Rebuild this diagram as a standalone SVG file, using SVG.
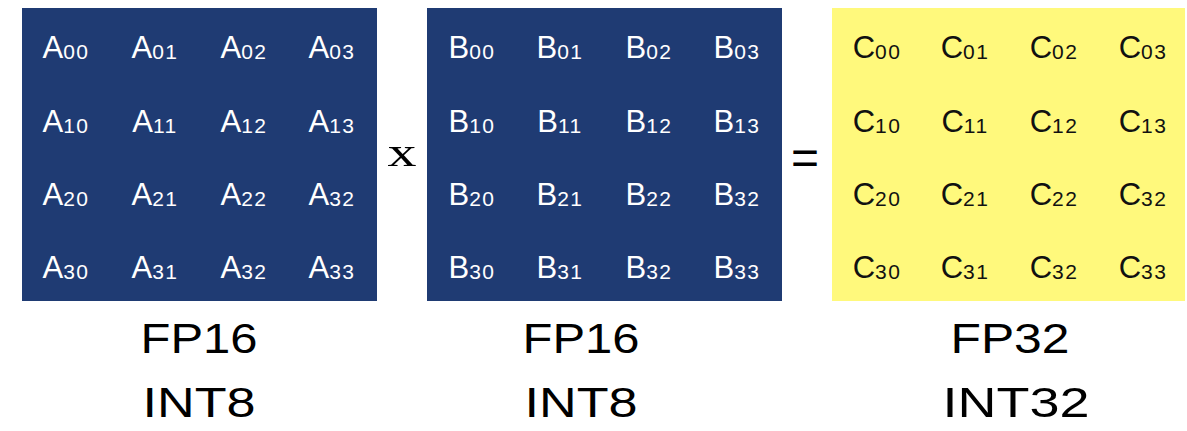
<svg xmlns="http://www.w3.org/2000/svg" width="1187" height="431" viewBox="0 0 1187 431">
<style>
.blue{fill:#1f3b73}
.yellow{fill:#fff97c}
.cw{font-family:"Liberation Sans",Arial,sans-serif;font-size:31px;fill:#ffffff;text-anchor:middle}
.ck{font-family:"Liberation Sans",Arial,sans-serif;font-size:31px;fill:#111111;text-anchor:middle}
.sub{font-size:21px;letter-spacing:1.5px}
.lbl{font-family:"Liberation Sans",Arial,sans-serif;font-size:43px;fill:#000000;text-anchor:middle}
.op{font-family:"Liberation Serif","Times New Roman",serif;font-size:42px;fill:#000;text-anchor:middle}
.eq{font-family:"Liberation Sans",Arial,sans-serif;font-size:48px;fill:#000;text-anchor:middle}
</style>
<rect width="1187" height="431" fill="#ffffff"/>
<g id="matrixA">
<rect class="blue" x="22" y="8" width="355" height="293"/>
<text class="cw" x="66" y="58">A<tspan class="sub" dy="1">00</tspan></text>
<text class="cw" x="155" y="58">A<tspan class="sub" dy="1">01</tspan></text>
<text class="cw" x="244" y="58">A<tspan class="sub" dy="1">02</tspan></text>
<text class="cw" x="332" y="58">A<tspan class="sub" dy="1">03</tspan></text>
<text class="cw" x="66" y="132">A<tspan class="sub" dy="1">10</tspan></text>
<text class="cw" x="155" y="132">A<tspan class="sub" dy="1">11</tspan></text>
<text class="cw" x="244" y="132">A<tspan class="sub" dy="1">12</tspan></text>
<text class="cw" x="332" y="132">A<tspan class="sub" dy="1">13</tspan></text>
<text class="cw" x="66" y="205">A<tspan class="sub" dy="1">20</tspan></text>
<text class="cw" x="155" y="205">A<tspan class="sub" dy="1">21</tspan></text>
<text class="cw" x="244" y="205">A<tspan class="sub" dy="1">22</tspan></text>
<text class="cw" x="332" y="205">A<tspan class="sub" dy="1">32</tspan></text>
<text class="cw" x="66" y="278">A<tspan class="sub" dy="1">30</tspan></text>
<text class="cw" x="155" y="278">A<tspan class="sub" dy="1">31</tspan></text>
<text class="cw" x="244" y="278">A<tspan class="sub" dy="1">32</tspan></text>
<text class="cw" x="332" y="278">A<tspan class="sub" dy="1">33</tspan></text>
</g>
<g id="times"><text class="op" x="402" y="166" textLength="29" lengthAdjust="spacingAndGlyphs">x</text></g>
<g id="matrixB">
<rect class="blue" x="427" y="8" width="355" height="293"/>
<text class="cw" x="472" y="58">B<tspan class="sub" dy="1">00</tspan></text>
<text class="cw" x="560" y="58">B<tspan class="sub" dy="1">01</tspan></text>
<text class="cw" x="649" y="58">B<tspan class="sub" dy="1">02</tspan></text>
<text class="cw" x="737" y="58">B<tspan class="sub" dy="1">03</tspan></text>
<text class="cw" x="472" y="132">B<tspan class="sub" dy="1">10</tspan></text>
<text class="cw" x="560" y="132">B<tspan class="sub" dy="1">11</tspan></text>
<text class="cw" x="649" y="132">B<tspan class="sub" dy="1">12</tspan></text>
<text class="cw" x="737" y="132">B<tspan class="sub" dy="1">13</tspan></text>
<text class="cw" x="472" y="205">B<tspan class="sub" dy="1">20</tspan></text>
<text class="cw" x="560" y="205">B<tspan class="sub" dy="1">21</tspan></text>
<text class="cw" x="649" y="205">B<tspan class="sub" dy="1">22</tspan></text>
<text class="cw" x="737" y="205">B<tspan class="sub" dy="1">32</tspan></text>
<text class="cw" x="472" y="278">B<tspan class="sub" dy="1">30</tspan></text>
<text class="cw" x="560" y="278">B<tspan class="sub" dy="1">31</tspan></text>
<text class="cw" x="649" y="278">B<tspan class="sub" dy="1">32</tspan></text>
<text class="cw" x="737" y="278">B<tspan class="sub" dy="1">33</tspan></text>
</g>
<g id="equals"><text class="eq" x="805" y="174">=</text></g>
<g id="matrixC">
<rect class="yellow" x="832" y="8" width="353" height="293"/>
<text class="ck" x="877" y="58">C<tspan class="sub" dy="1">00</tspan></text>
<text class="ck" x="965" y="58">C<tspan class="sub" dy="1">01</tspan></text>
<text class="ck" x="1054" y="58">C<tspan class="sub" dy="1">02</tspan></text>
<text class="ck" x="1143" y="58">C<tspan class="sub" dy="1">03</tspan></text>
<text class="ck" x="877" y="132">C<tspan class="sub" dy="1">10</tspan></text>
<text class="ck" x="965" y="132">C<tspan class="sub" dy="1">11</tspan></text>
<text class="ck" x="1054" y="132">C<tspan class="sub" dy="1">12</tspan></text>
<text class="ck" x="1143" y="132">C<tspan class="sub" dy="1">13</tspan></text>
<text class="ck" x="877" y="205">C<tspan class="sub" dy="1">20</tspan></text>
<text class="ck" x="965" y="205">C<tspan class="sub" dy="1">21</tspan></text>
<text class="ck" x="1054" y="205">C<tspan class="sub" dy="1">22</tspan></text>
<text class="ck" x="1143" y="205">C<tspan class="sub" dy="1">32</tspan></text>
<text class="ck" x="877" y="278">C<tspan class="sub" dy="1">30</tspan></text>
<text class="ck" x="965" y="278">C<tspan class="sub" dy="1">31</tspan></text>
<text class="ck" x="1054" y="278">C<tspan class="sub" dy="1">32</tspan></text>
<text class="ck" x="1143" y="278">C<tspan class="sub" dy="1">33</tspan></text>
</g>
<g id="labels">
<text class="lbl" x="199" y="353" textLength="117" lengthAdjust="spacingAndGlyphs">FP16</text>
<text class="lbl" x="199" y="417" textLength="113" lengthAdjust="spacingAndGlyphs">INT8</text>
<text class="lbl" x="581" y="353" textLength="117" lengthAdjust="spacingAndGlyphs">FP16</text>
<text class="lbl" x="581" y="417" textLength="113" lengthAdjust="spacingAndGlyphs">INT8</text>
<text class="lbl" x="1010" y="353" textLength="119" lengthAdjust="spacingAndGlyphs">FP32</text>
<text class="lbl" x="1016" y="417" textLength="147" lengthAdjust="spacingAndGlyphs">INT32</text>
</g>
<g id="connectors"></g>
</svg>
